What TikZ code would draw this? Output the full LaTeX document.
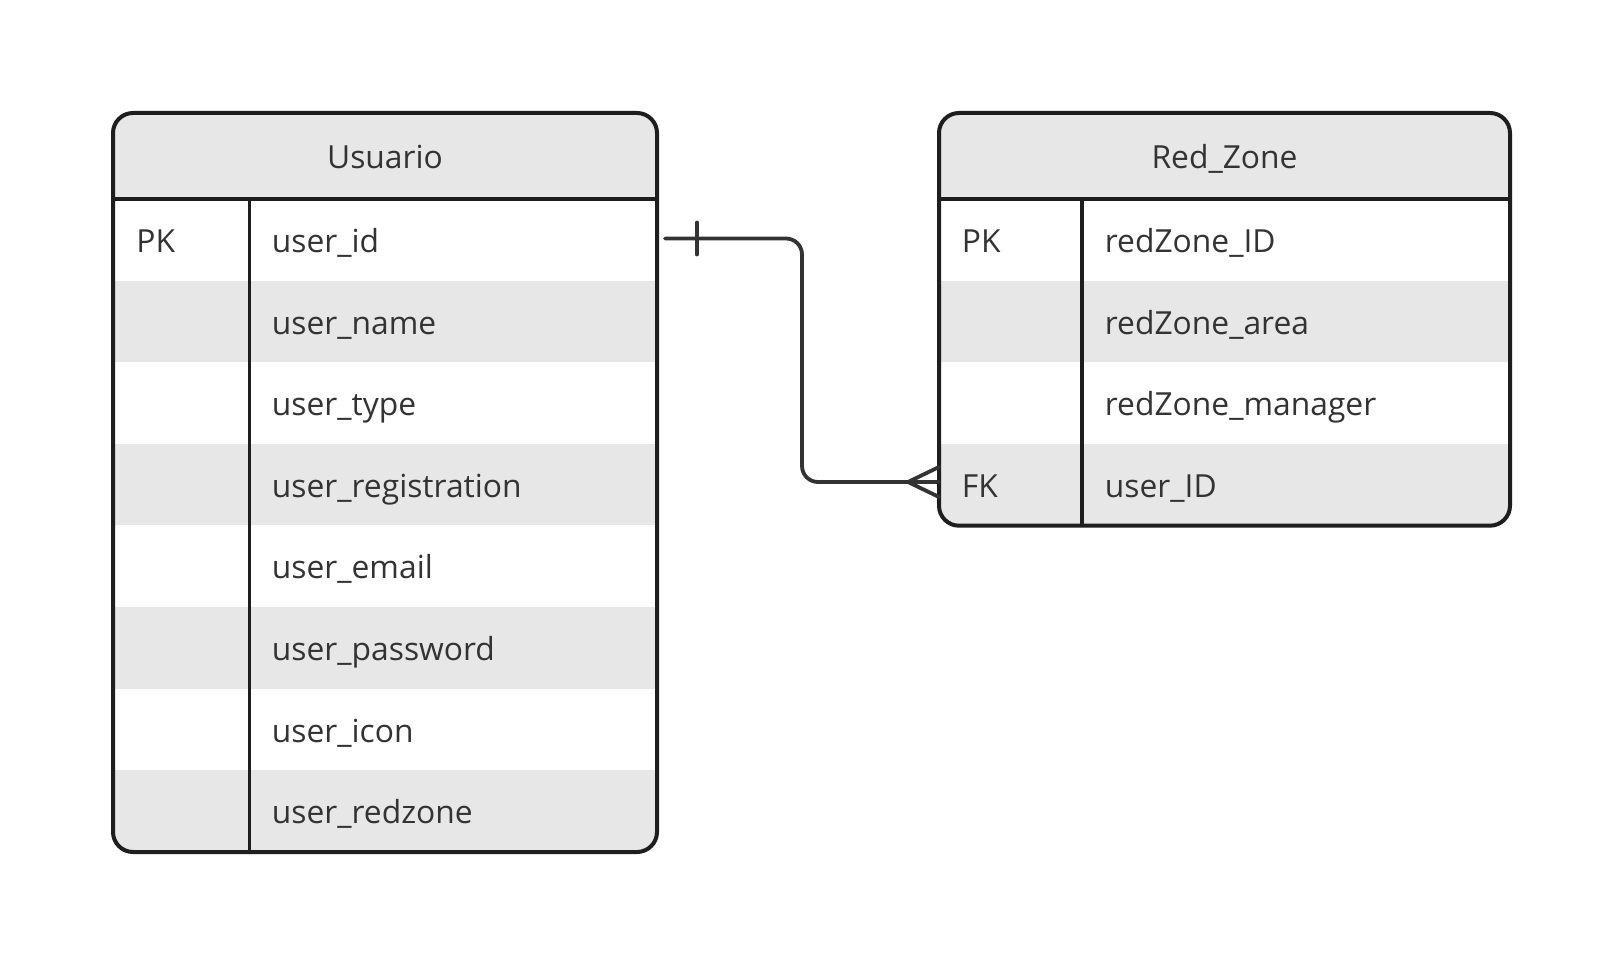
\documentclass[tikz,border=0pt]{standalone}
\usepackage{fontspec}
\setmainfont{Open Sans}
\usetikzlibrary{calc}
\definecolor{hdrgray}{HTML}{E7E7E7}
\definecolor{linecol}{HTML}{1E1E1E}
\definecolor{txtcol}{HTML}{333333}
\definecolor{conncol}{HTML}{333333}
\tikzset{
  border/.style={draw=linecol, line width=2pt, rounded corners=10pt},
  innerline/.style={draw=linecol, line width=1.7pt},
  conn/.style={draw=conncol, line width=1.9pt, line cap=round},
  celltext/.style={anchor=base west, inner sep=0pt, text=txtcol, font=\fontsize{15.9pt}{19pt}\selectfont},
  hdrtext/.style={anchor=base, inner sep=0pt, text=txtcol, font=\fontsize{15.9pt}{19pt}\selectfont},
}
\begin{document}
\begin{tikzpicture}[x=0.5pt, y=-0.5pt]
\useasboundingbox[fill=white] (0,0) rectangle (1623,962);
% ---------- Usuario ----------
\begin{scope}
  \clip[rounded corners=10pt] (113,113) rectangle (657,852);
  \fill[white] (113,113) rectangle (657,852);
  \fill[hdrgray] (113,113) rectangle (657,199);
  \foreach \i in {1,3,5,7} {
    \fill[hdrgray] (113,{199+81.625*\i}) rectangle (657,{199+81.625*(\i+1)});
  }
\end{scope}
\draw[innerline] (113,199) -- (657,199);
\draw[innerline] (249.7,199) -- (249.7,852);
\draw[border] (113,113) rectangle (657,852);
\node[hdrtext] (uhead) at (385,168.5) {Usuario};
\node[celltext] (u1k) at (136,252.5) {PK};
\foreach \t [count=\i from 0] in {user\_id,user\_name,user\_type,user\_registration,user\_email,user\_password,user\_icon,user\_redzone} {
  \node[celltext] (u\i) at (271.5,{252.5+81.625*\i}) {\t};
}
% ---------- Red_Zone ----------
\begin{scope}
  \clip[rounded corners=10pt] (939,113) rectangle (1510,525.7);
  \fill[white] (939,113) rectangle (1510,525.7);
  \fill[hdrgray] (939,113) rectangle (1510,199);
  \foreach \i in {1,3} {
    \fill[hdrgray] (939,{199+81.675*\i}) rectangle (1510,{199+81.675*(\i+1)});
  }
\end{scope}
\draw[innerline] (939,199) -- (1510,199);
\draw[innerline] (1082,199) -- (1082,525.7);
\draw[border] (939,113) rectangle (1510,525.7);
\node[hdrtext] (rhead) at (1224.5,168.5) {Red\_Zone};
\node[celltext] (r0k) at (961.5,252.5) {PK};
\node[celltext] (r3k) at (961.5,{252.5+81.675*3}) {FK};
\foreach \t [count=\i from 0] in {redZone\_ID,redZone\_area,redZone\_manager,user\_ID} {
  \node[celltext] (r\i) at (1104.5,{252.5+81.675*\i}) {\t};
}
% ---------- connector ----------
\coordinate (uidR) at (665,238.5);
\coordinate (fkL) at (939,482);
\draw[conn, rounded corners=8pt] (uidR) -| ($(uidR)!0.5!(fkL)$) |- (fkL);
\draw[conn] ($(uidR)+(32,-16)$) -- ($(uidR)+(32,16)$);
\draw[conn] ($(fkL)+(-31,0)$) -- ($(fkL)+(0,-15)$);
\draw[conn] ($(fkL)+(-31,0)$) -- ($(fkL)+(0,15)$);
\end{tikzpicture}
\end{document}
